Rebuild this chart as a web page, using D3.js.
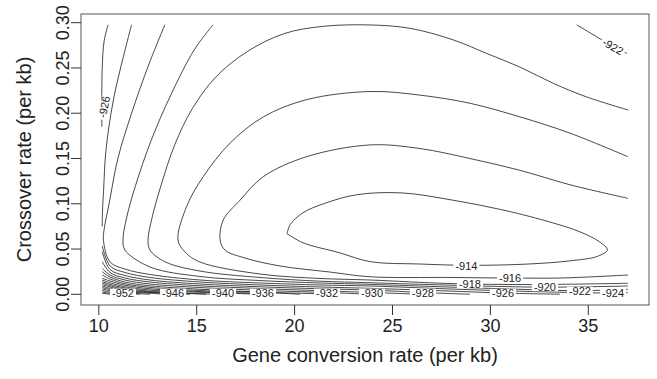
<!DOCTYPE html>
<html><head><meta charset="utf-8">
<script src="https://cdn.jsdelivr.net/npm/d3@7"></script>
<style>body{margin:0;background:#fff} text{font-family:"Liberation Sans",Arial,sans-serif}</style>
</head><body><svg id="c" width="657" height="379"></svg>
<script>
const xTicks=[10,15,20,25,30,35];
const yTicks=[0,0.05,0.1,0.15,0.2,0.25,0.3];
const xTitle="Gene conversion rate (per kb)";
const yTitle="Crossover rate (per kb)";

const c914=[[19.64,0.067],[19.8,0.077],[20.45,0.090],[21.5,0.100],[23.2,0.110],[25.5,0.112],[28.1,0.104],[30.7,0.093],[33.2,0.079],[34.6,0.069],[35.6,0.058],[36.0,0.049],[35.5,0.042],[34.1,0.037],[32.0,0.0335],[29.0,0.032],[26.4,0.0335],[23.9,0.036],[22.3,0.046],[20.45,0.057],[19.64,0.067]];
const c916=[[37.05,0.106],[34.09,0.121],[31.53,0.137],[28.98,0.150],[26.43,0.161],[23.88,0.165],[20.64,0.152],[18.43,0.130],[17.24,0.104],[16.38,0.082],[16.22,0.060],[16.47,0.0489],[17.49,0.0401],[19.28,0.0313],[21.83,0.0246],[23.88,0.0194],[27.96,0.0186],[31.03,0.0180],[33.58,0.0180],[37.05,0.0213]];
const c918=[[37.05,0.152],[34.09,0.178],[31.53,0.196],[28.98,0.211],[26.43,0.220],[23.88,0.224],[20.64,0.215],[18.43,0.196],[16.73,0.167],[15.36,0.130],[14.51,0.097],[14.07,0.060],[14.43,0.0467],[15.19,0.0357],[18.26,0.0224],[21.32,0.0175],[23.88,0.0158],[27.96,0.0119],[32.05,0.0108],[37.05,0.0122]];
const c920=[[37.07,0.2035],[34.94,0.218],[33.24,0.233],[31.53,0.251],[29.84,0.266],[28.13,0.281],[25.92,0.2938],[23.88,0.2975],[21.5,0.296],[19.5,0.288],[17.6,0.268],[16.0,0.240],[14.8,0.205],[13.9,0.165],[13.2,0.120],[12.75,0.085],[12.54,0.060],[12.64,0.0489],[13.4,0.036],[15.19,0.0257],[18.26,0.0186],[21.32,0.0145],[23.88,0.0128],[27.96,0.0101],[32.81,0.0079],[37.05,0.0092]];
const c922a=[[34.43,0.2977],[35.45,0.2845],[36.3,0.2735],[37.0,0.266]];
const c922=[[15.86,0.2977],[14.9,0.270],[13.7,0.220],[12.7,0.170],[11.9,0.120],[11.45,0.085],[11.26,0.060],[11.36,0.0489],[12.64,0.0302],[15.19,0.0197],[18.26,0.0152],[21.32,0.0125],[23.88,0.0110],[27.96,0.0080],[32.05,0.0052],[34.60,0.0040],[37.05,0.0055]];
const c924=[[13.4,0.2977],[12.6,0.255],[11.7,0.200],[11.0,0.150],[10.55,0.100],[10.3,0.072],[10.26,0.060],[10.60,0.0357],[11.36,0.0279],[12.64,0.0219],[15.19,0.0158],[18.26,0.0125],[21.32,0.0103],[23.88,0.0092],[27.96,0.0059],[32.05,0.0031],[36.29,0.0014],[37.05,0.0018]];
const c926a=[[11.7,0.2977],[11.28,0.2625],[10.77,0.2146],[10.39,0.159],[10.27,0.115],[10.21,0.09],[10.2,0.075]];
const c926=[[10.2,0.0534],[10.60,0.0313],[11.36,0.0241],[12.64,0.0186],[15.19,0.0136],[18.26,0.0103],[21.32,0.0081],[23.88,0.0066],[27.96,0.0036],[30.67,0.0014],[33.58,0.0001]];
const c928a=[[10.5,0.2977],[10.3,0.280],[10.2,0.250],[10.18,0.185]];
const c928=[[10.2,0.0471],[10.60,0.0274],[11.36,0.0208],[12.64,0.0158],[15.19,0.0114],[18.26,0.0083],[21.32,0.0061],[23.88,0.0047],[26.58,0.0020],[28.98,0.0001]];
const c930=[[10.2,0.0360],[10.60,0.0241],[11.36,0.0180],[12.64,0.0136],[15.19,0.0094],[18.26,0.0064],[21.32,0.0040],[23.98,0.0020],[26.43,0.0001]];
const c932=[[10.2,0.0287],[10.60,0.0213],[11.36,0.0158],[12.64,0.0114],[15.19,0.0075],[18.26,0.0044],[21.68,0.0020],[23.88,0.0001]];
const c934=[[10.2,0.0250],[10.60,0.0191],[11.36,0.0136],[12.64,0.0094],[15.19,0.0056],[18.26,0.0025],[22.34,0.0001]];
const c936=[[10.2,0.0213],[10.60,0.0169],[11.36,0.0117],[12.64,0.0077],[15.19,0.0042],[18.41,0.0020],[20.30,0.0001]];
const c938=[[10.2,0.0177],[10.60,0.0147],[11.36,0.0101],[12.64,0.0061],[15.19,0.0030],[18.26,0.0009],[19.02,0.0001]];
const c940=[[10.2,0.0158],[10.60,0.0127],[11.36,0.0084],[12.64,0.0047],[15.19,0.0022],[16.37,0.0016],[18.01,0.0001]];
const c942=[[10.2,0.0141],[10.60,0.0110],[11.36,0.0070],[12.64,0.0034],[15.96,0.0001]];
const c944=[[10.2,0.0125],[10.60,0.0095],[11.36,0.0056],[12.64,0.0026],[14.0,0.0014],[15.5,0.0001]];
const c946=[[10.2,0.0108],[10.60,0.0081],[11.36,0.0043],[12.64,0.0020],[13.82,0.0009],[14.68,0.0001]];
const c948=[[10.2,0.0092],[10.60,0.0066],[11.36,0.0031],[12.64,0.0012],[13.41,0.0001]];
const c950=[[10.2,0.0075],[10.60,0.0053],[11.36,0.0020],[12.64,0.0001]];
const c952=[[10.2,0.0059],[10.60,0.0039],[11.26,0.0018],[12.13,0.0001]];
const c954=[[10.2,0.0042],[10.60,0.0025],[11.52,0.0001]];
const c956=[[10.2,0.0025],[10.60,0.0012],[11.01,0.0001]];
const c958=[[10.2,0.0012],[10.60,0.0001]];

const contourLines=[c914,c916,c918,c920,c922a,c922,c924,c926a,c926,c928a,c928,c930,c932,c934,c936,c938,c940,c942,c944,c946,c948,c950,c952,c954,c956,c958];

const labelText=["-914","-916","-918","-920","-922","-924","-926","-928","-930","-932","-936","-940","-946","-952","-926","-922"];
const labelX=[28.8,31.03,28.98,32.81,34.6,36.29,30.67,26.58,23.98,21.68,18.41,16.37,13.82,11.26,10.3,36.28];
const labelY=[0.0313,0.0178,0.0113,0.0079,0.0040,0.0014,0.0016,0.0018,0.0018,0.0018,0.0018,0.0018,0.0018,0.0018,0.207,0.2735];
const labelAngle=[0,0,0,0,0,0,0,0,0,0,0,0,0,0,-78,30];

const svg=d3.select("#c");
const x=d3.scaleLinear().domain([9.116,38.126]).range([81,649]);
const y=d3.scaleLinear().domain([-0.0118,0.3096]).range([305,14]);

const line=d3.line().x(d=>x(d[0])).y(d=>y(d[1])).curve(d3.curveCatmullRom.alpha(0.5));
svg.append("g").selectAll("path").data(contourLines).join("path")
  .attr("d",line).attr("fill","none").attr("stroke","#1a1a1a").attr("stroke-width",0.8);

const lg=svg.append("g");
labelText.forEach((t,i)=>{
  const g=lg.append("g").attr("transform",`translate(${x(labelX[i])},${y(labelY[i])}) rotate(${labelAngle[i]})`);
  const tx=g.append("text").text(t).attr("text-anchor","middle").attr("dy","0.35em")
    .attr("font-size",11).attr("fill","#222");
  const w=tx.node().getComputedTextLength();
  g.insert("rect","text").attr("x",-w/2-2).attr("y",-4).attr("width",w+4).attr("height",8).attr("fill","#fff");
});

svg.append("rect").attr("x",81).attr("y",14).attr("width",568).attr("height",291)
  .attr("fill","none").attr("stroke","#555").attr("stroke-width",1);

const xa=d3.axisBottom(x).tickValues(xTicks).tickSize(10).tickPadding(4).tickFormat(d3.format("d"));
const gx=svg.append("g").attr("transform","translate(0,305)").call(xa);
gx.select(".domain").remove();
gx.selectAll("text").attr("font-size",18).attr("font-family","Liberation Sans, Arial, sans-serif").attr("fill","#222");
gx.selectAll("line").attr("stroke","#333");

const gy=svg.append("g");
yTicks.forEach(t=>{
  gy.append("line").attr("x1",71).attr("x2",81).attr("y1",y(t)).attr("y2",y(t)).attr("stroke","#333");
  gy.append("text").attr("transform",`translate(69,${y(t)}) rotate(-90)`).attr("text-anchor","middle")
    .attr("font-size",18).attr("fill","#222").text(d3.format(".2f")(t));
});

svg.append("text").attr("x",365).attr("y",362).attr("text-anchor","middle").attr("font-size",20).attr("fill","#222").text(xTitle);
svg.append("text").attr("transform","translate(31,159.5) rotate(-90)").attr("text-anchor","middle").attr("font-size",20).attr("fill","#222").text(yTitle);
</script></body></html>
